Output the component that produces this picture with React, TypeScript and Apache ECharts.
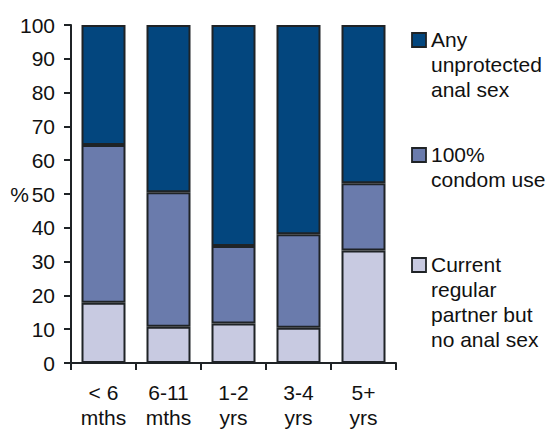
import React, { useEffect, useRef } from "react";
import * as echarts from "echarts";

const categories = ["< 6\nmths", "6-11\nmths", "1-2\nyrs", "3-4\nyrs", "5+\nyrs"];
const regularNoAnal = [17.8, 10.7, 11.7, 10.4, 33.3];
const condomUse = [46.7, 39.8, 22.9, 27.7, 19.9];
const unprotected = [35.5, 49.5, 65.4, 61.9, 46.8];
const seriesNames = [
  "Current regular partner but no anal sex",
  "100% condom use",
  "Any unprotected anal sex",
];
const legendLabels = [
  "Any\nunprotected\nanal sex",
  "100%\ncondom use",
  "Current\nregular\npartner but\nno anal sex",
];
const yTicks = [0, 10, 20, 30, 40, 50, 60, 70, 80, 90, 100];

const COLORS = ["#C8CAE1", "#6A7BAC", "#03467E"];
const BORDER = "#1f2326";
const FONT = "Liberation Sans, Arial, sans-serif";
const FS = 21;

export default function App() {
  const ref = useRef<HTMLDivElement>(null);
  useEffect(() => {
    if (!ref.current) return;
    const chart = echarts.init(ref.current, undefined, { renderer: "svg" });
    const data = [regularNoAnal, condomUse, unprotected];
    const legendTops = [27, 142, 252];
    const legendColors = [COLORS[2], COLORS[1], COLORS[0]];
    const graphic: any[] = [];
    legendLabels.forEach((lab, i) => {
      graphic.push({
        type: "rect",
        shape: { x: 412, y: legendTops[i] + 6, width: 14, height: 14 },
        style: { fill: legendColors[i], stroke: BORDER, lineWidth: 1.8 },
      });
      graphic.push({
        type: "text",
        x: 431,
        y: legendTops[i],
        style: {
          text: lab,
          font: `${FS}px ${FONT}`,
          lineHeight: 25,
          fill: "#111",
          verticalAlign: "top",
          align: "left",
        },
      });
    });
    chart.setOption({
      animation: false,
      grid: {
        left: 71,
        right: 153,
        top: 25,
        bottom: 67,
        containLabel: false,
        outerBoundsMode: "none",
      },
      xAxis: {
        type: "category",
        data: categories,
        axisLine: { lineStyle: { color: BORDER, width: 2 } },
        axisTick: { show: true, length: 7, lineStyle: { color: BORDER, width: 2 } },
        axisLabel: {
          color: "#111",
          fontFamily: FONT,
          fontSize: FS,
          lineHeight: 25,
          margin: 17,
          interval: 0,
        },
      },
      yAxis: {
        type: "value",
        min: yTicks[0],
        max: yTicks[yTicks.length - 1],
        interval: 10,
        name: "%",
        nameLocation: "middle",
        nameRotate: 0,
        nameGap: 42,
        nameMoveOverlap: false,
        nameTextStyle: {
          color: "#111",
          fontFamily: FONT,
          fontSize: FS,
          align: "right",
          verticalAlign: "middle",
        },
        splitLine: { show: false },
        axisLine: { show: true, lineStyle: { color: BORDER, width: 2 } },
        axisTick: { show: true, length: 7, lineStyle: { color: BORDER, width: 2 } },
        axisLabel: { color: "#111", fontFamily: FONT, fontSize: FS, margin: 16 },
      },
      series: data.map((d, i) => ({
        type: "bar",
        name: seriesNames[i],
        stack: "total",
        data: d,
        barWidth: 44,
        itemStyle: { color: COLORS[i], borderColor: BORDER, borderWidth: 2 },
      })),
      graphic,
    });
    return () => chart.dispose();
  }, []);
  return (
    <div
      ref={ref}
      style={{ position: "fixed", left: 0, top: 0, width: 549, height: 430, background: "#fff" }}
    />
  );
}
